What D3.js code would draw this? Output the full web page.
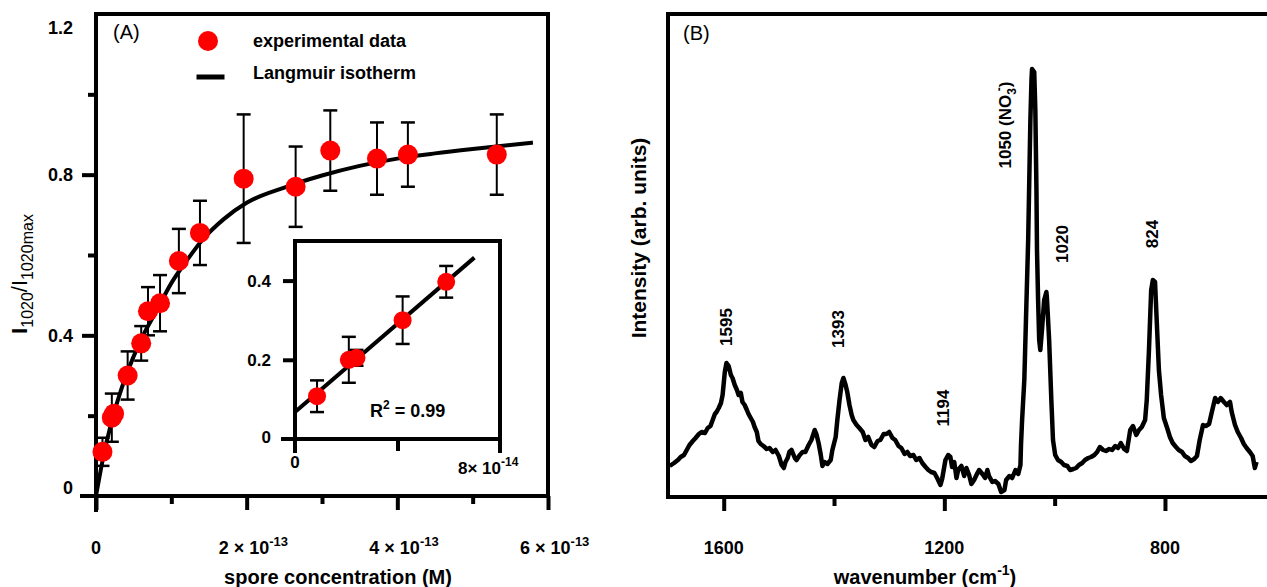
<!DOCTYPE html>
<html>
<head>
<meta charset="utf-8">
<script src="https://cdn.jsdelivr.net/npm/d3@7"></script>
<style>
  body { margin: 0; background: #fff; }
  svg text { font-family: "Liberation Sans", Arial, Helvetica, sans-serif; fill: #000; }
</style>
</head>
<body>
<div id="chart"></div>
<script>
// ---- panel A: spore concentration (units of 1e-13 M) vs I1020/I1020max
var concA  = [0.086, 0.21, 0.24, 0.42, 0.60, 0.69, 0.85, 1.10, 1.38, 1.96, 2.65, 3.11, 3.73, 4.14, 5.32];
var ratioA = [0.11, 0.195, 0.205, 0.30, 0.38, 0.46, 0.48, 0.585, 0.655, 0.79, 0.77, 0.86, 0.84, 0.85, 0.85];
var errA   = [0.035, 0.06, 0.015, 0.06, 0.043, 0.06, 0.07, 0.08, 0.08, 0.16, 0.10, 0.10, 0.09, 0.08, 0.10];

// Langmuir isotherm curve
var fitConc  = [0, 0.1, 0.2, 0.3, 0.4, 0.6, 0.8, 1.0, 1.2, 1.4, 1.7, 2.0, 2.5, 3.0, 3.5, 4.0, 4.5, 5.0, 5.5, 5.8];
var fitRatio = [0, 0.10, 0.18, 0.245, 0.30, 0.39, 0.46, 0.53, 0.585, 0.635, 0.69, 0.73, 0.768, 0.798, 0.822, 0.84, 0.853, 0.864, 0.874, 0.88];

var xTicksA = [0, 2, 4, 6];
var xMinorA = [1, 3, 5];
var yTicksA = [0, 0.4, 0.8, 1.2];
var yMinorA = [0.2, 0.6, 1.0];

// inset (units of 1e-14 M)
var concIn  = [0.86, 2.1, 2.4, 4.2, 5.9];
var ratioIn = [0.108, 0.200, 0.205, 0.300, 0.397];
var errIn   = [0.04, 0.058, 0.02, 0.06, 0.04];
var lineInX = [0, 7.0];
var lineInY = [0.068, 0.458];
var yTicksIn = [0, 0.2, 0.4];

// ---- panel B: Raman spectrum
var waveNum = [1698,1690,1683,1678,1672,1667,1662,1656,1651,1645,1640,1634,1629,1624,1620,1616,1613,1609,1605,1602,
  1598,1595,1591,1587,1584,1580,1576,1573,1569,1566,1562,1558,1555,1551,1547,1544,1540,1537,1533,
  1528,1522,1517,1511,1506,1500,1495,1491,1488,1484,1481,1477,1471,1468,1462,1457,1452,1446,1441,1435,
  1432,1428,1424,1421,1417,1412,1406,1403,1397,1394,1390,1386,1383,1379,1376,1372,1368,1365,1359,1354,1348,1343,1338,
  1332,1327,1321,1316,1310,1305,1300,1294,1289,1283,1278,1272,1267,1262,1256,1251,1245,1240,1234,1229,1224,1218,1213,1207,
  1204,1198,1193,1189,1186,1182,1178,1175,1169,1164,1160,1155,1151,1146,1140,1137,1131,1126,1122,1119,
  1113,1108,1102,1097,1091,1088,1082,1077,1071,1066,1062,
  1061,1059,1055,1052,1048,1044,1042,1041,1037,1035,1033,1032,1030,1028,1026,1023,1019,1015,1014,1010,1006,1003,999,994,
  988,983,977,972,966,961,956,950,945,939,934,928,923,918,912,907,901,896,890,885,
  880,874,869,863,858,852,847,842,836,833,829,825,822,818,815,811,807,802,796,791,
  786,780,775,769,764,758,753,747,742,737,731,726,720,715,709,704,699,693,688,682,
  679,673,668,662,657,652,646,641,637,634];
var intensity = [31,34,37,40,42,47,52,56,59,63,65,64,69,71,77,83,85,89,94,102,
  125,134,131,122,119,112,107,102,104,95,92,87,83,79,75,70,65,56,53,
  51,48,49,45,47,41,32,29,35,39,45,47,39,37,42,45,45,52,57,67,
  63,54,42,31,35,33,37,47,60,77,97,114,119,112,105,92,82,77,72,69,65,57,60,
  52,50,56,57,63,63,65,59,57,51,49,43,45,41,42,37,39,34,30,27,25,24,19,12,
  18,37,42,40,30,35,19,27,31,21,29,22,13,17,24,27,23,19,27,21,
  15,16,13,5,7,17,21,19,27,23,32,
  52,77,117,177,257,377,417,428,425,387,307,247,197,157,147,167,197,205,199,157,97,57,42,37,
  35,32,31,27,28,29,32,34,37,39,40,42,45,50,47,46,48,47,51,49,
  54,48,46,67,71,62,67,70,77,97,147,207,217,215,177,127,102,79,69,60,
  54,50,47,45,41,39,36,38,41,57,72,71,73,85,99,95,99,95,92,95,
  85,72,65,59,53,49,45,41,29,35];

var xTicksB = [1600, 1200, 800];
var xMinorB = [1400, 1000];
var peakLabels = [
  {w: 1595, t: "1595", dx: 0,   at: 170},
  {w: 1393, t: "1393", dx: 0,   at: 168},
  {w: 1194, t: "1194", dx: -5,  at: 89},
  {w: 1020, t: "1020", dx: 18,  at: 253},
  {w: 824,  t: "824",  dx: 0,   at: 263}
];

var W = 1267, H = 587;
var svg = d3.select("#chart").append("svg")
    .attr("width", W).attr("height", H)
    .style("display", "block");
svg.append("rect").attr("width", W).attr("height", H).attr("fill", "#fff");

var lw = 4;   // frame / axis thickness
function seg(g, x1, y1, x2, y2, w) {
  g.append("line").attr("x1", x1).attr("y1", y1).attr("x2", x2).attr("y2", y2)
    .attr("stroke", "#000").attr("stroke-width", w || lw).attr("stroke-linecap", "square");
}
function styleAxis(sel) {
  sel.select(".domain").remove();
  sel.selectAll(".tick line").attr("stroke", "#000").attr("stroke-width", lw);
}

//================ panel A
var xA = d3.scaleLinear().domain([0, 6]).range([96, 548]);
var yA = d3.scaleLinear().domain([0, 1.2]).range([496, 14]);
var gA = svg.append("g");

// ticks
gA.append("g").attr("transform", "translate(0," + yA(0) + ")")
  .call(d3.axisBottom(xA).tickValues(xTicksA).tickSize(14).tickFormat(""))
  .call(styleAxis);
gA.append("g").attr("transform", "translate(0," + yA(0) + ")")
  .call(d3.axisBottom(xA).tickValues(xMinorA).tickSize(8).tickFormat(""))
  .call(styleAxis);
gA.append("g").attr("transform", "translate(" + xA(0) + ",0)")
  .call(d3.axisLeft(yA).tickValues(yTicksA.slice(1, 3)).tickSize(14).tickFormat(""))
  .call(styleAxis);
gA.append("g").attr("transform", "translate(" + xA(0) + ",0)")
  .call(d3.axisLeft(yA).tickValues(yMinorA).tickSize(8).tickFormat(""))
  .call(styleAxis);

// frame
seg(gA, xA(0) - 14, yA(0), xA(6), yA(0));
seg(gA, xA(0), yA(1.2), xA(0), yA(0) + 14);
seg(gA, xA(0), yA(1.2), xA(6), yA(1.2));
seg(gA, xA(6), yA(1.2), xA(6), yA(0));

// y tick labels
gA.selectAll("text.ylab").data(yTicksA).enter().append("text")
  .attr("class", "ylab")
  .attr("x", 73)
  .attr("y", function(d) { return yA(d) + (d === 1.2 ? 14 : d === 0 ? -8 : 0); })
  .attr("dy", "0.35em")
  .attr("text-anchor", "end")
  .attr("font-size", 18).attr("font-weight", "bold")
  .text(function(d) { return d === 0 ? "0" : d3.format(".1f")(d); });

// x tick labels
xTicksA.forEach(function(v) {
  var t = gA.append("text").attr("y", 554)
    .attr("font-size", 18).attr("font-weight", "bold");
  if (v === 0) {
    t.attr("x", xA(v)).attr("text-anchor", "middle").text("0");
  } else {
    t.attr("x", xA(v) - 28).text(v + " \u00d7 10");
    t.append("tspan").attr("dy", -8).attr("font-size", 13).text("-13");
  }
});

// axis titles
gA.append("text").attr("x", 338).attr("y", 584).attr("text-anchor", "middle")
  .attr("font-size", 20).attr("font-weight", "bold").text("spore concentration (M)");

var yt = gA.append("text")
  .attr("transform", "translate(27,274) rotate(-90)")
  .attr("text-anchor", "middle")
  .attr("font-size", 22).attr("font-weight", "bold");
yt.append("tspan").text("I");
yt.append("tspan").attr("dy", 6).attr("font-size", 16).attr("font-weight", "normal").text("1020");
yt.append("tspan").attr("dy", -6).attr("font-weight", "normal").text("/I");
yt.append("tspan").attr("dy", 6).attr("font-size", 16).attr("font-weight", "normal").text("1020max");

gA.append("text").attr("x", 113).attr("y", 39).attr("font-size", 20).text("(A)");

// fit curve
var fitData = d3.zip(fitConc, fitRatio);
gA.append("path").datum(fitData)
  .attr("fill", "none").attr("stroke", "#000").attr("stroke-width", 4)
  .attr("d", d3.line().x(function(d) { return xA(d[0]); }).y(function(d) { return yA(d[1]); })
    .curve(d3.curveMonotoneX));

// error bars + points
var ptsA = d3.zip(concA, ratioA, errA);
var eb = gA.append("g").selectAll("g").data(ptsA).enter().append("g");
eb.append("line")
  .attr("x1", function(d) { return xA(d[0]); }).attr("x2", function(d) { return xA(d[0]); })
  .attr("y1", function(d) { return yA(d[1] - d[2]); }).attr("y2", function(d) { return yA(d[1] + d[2]); })
  .attr("stroke", "#000").attr("stroke-width", 2);
[-1, 1].forEach(function(s) {
  eb.append("line")
    .attr("x1", function(d) { return xA(d[0]) - 7; }).attr("x2", function(d) { return xA(d[0]) + 7; })
    .attr("y1", function(d) { return yA(d[1] + s * d[2]); }).attr("y2", function(d) { return yA(d[1] + s * d[2]); })
    .attr("stroke", "#000").attr("stroke-width", 2.5);
});
gA.append("g").selectAll("circle").data(ptsA).enter().append("circle")
  .attr("cx", function(d) { return xA(d[0]); })
  .attr("cy", function(d) { return yA(d[1]); })
  .attr("r", 10).attr("fill", "#f00");

// legend
gA.append("circle").attr("cx", 208).attr("cy", 41).attr("r", 10).attr("fill", "#f00");
gA.append("text").attr("x", 253).attr("y", 47).attr("font-size", 18).attr("font-weight", "bold").text("experimental data");
seg(gA, 199, 77, 222, 77, 5);
gA.append("text").attr("x", 253).attr("y", 79).attr("font-size", 18).attr("font-weight", "bold").text("Langmuir isotherm");

//================ inset
var xI = d3.scaleLinear().domain([0, 8]).range([295, 500]);
var yI = d3.scaleLinear().domain([0, 0.5]).range([439, 241]);
var gI = svg.append("g");
gI.append("rect").attr("x", xI(0)).attr("y", yI(0.5)).attr("width", xI(8) - xI(0))
  .attr("height", yI(0) - yI(0.5)).attr("fill", "#fff");
gI.append("g").attr("transform", "translate(0," + yI(0) + ")")
  .call(d3.axisBottom(xI).tickValues([4]).tickSize(12).tickFormat(""))
  .call(styleAxis);
gI.append("g").attr("transform", "translate(" + xI(0) + ",0)")
  .call(d3.axisLeft(yI).tickValues([0.2, 0.4]).tickSize(12).tickFormat(""))
  .call(styleAxis);
seg(gI, xI(0) - 12, yI(0), xI(8), yI(0));
seg(gI, xI(0), yI(0.5), xI(0), yI(0) + 12);
seg(gI, xI(0), yI(0.5), xI(8), yI(0.5));
seg(gI, xI(8), yI(0.5), xI(8), yI(0) + 12);

gI.selectAll("text.yl").data(yTicksIn).enter().append("text")
  .attr("class", "yl")
  .attr("x", 271).attr("y", function(d) { return yI(d) + (d === 0 ? -2 : 0); })
  .attr("dy", "0.35em").attr("text-anchor", "end")
  .attr("font-size", 17).attr("font-weight", "bold")
  .text(function(d) { return d === 0 ? "0" : d3.format(".1f")(d); });
gI.append("text").attr("x", xI(0)).attr("y", 468).attr("text-anchor", "middle")
  .attr("font-size", 17).attr("font-weight", "bold").text("0");
var t8 = gI.append("text").attr("x", xI(8) - 42).attr("y", 474)
  .attr("font-size", 17).attr("font-weight", "bold").text("8\u00d7 10");
t8.append("tspan").attr("dy", -8).attr("font-size", 12).text("-14");

gI.append("path").datum(d3.zip(lineInX, lineInY))
  .attr("fill", "none").attr("stroke", "#000").attr("stroke-width", 4)
  .attr("d", d3.line().x(function(d) { return xI(d[0]); }).y(function(d) { return yI(d[1]); }));

var ptsI = d3.zip(concIn, ratioIn, errIn);
var ebI = gI.append("g").selectAll("g").data(ptsI).enter().append("g");
ebI.append("line")
  .attr("x1", function(d) { return xI(d[0]); }).attr("x2", function(d) { return xI(d[0]); })
  .attr("y1", function(d) { return yI(d[1] - d[2]); }).attr("y2", function(d) { return yI(d[1] + d[2]); })
  .attr("stroke", "#000").attr("stroke-width", 2);
[-1, 1].forEach(function(s) {
  ebI.append("line")
    .attr("x1", function(d) { return xI(d[0]) - 7; }).attr("x2", function(d) { return xI(d[0]) + 7; })
    .attr("y1", function(d) { return yI(d[1] + s * d[2]); }).attr("y2", function(d) { return yI(d[1] + s * d[2]); })
    .attr("stroke", "#000").attr("stroke-width", 2.5);
});
gI.append("g").selectAll("circle").data(ptsI).enter().append("circle")
  .attr("cx", function(d) { return xI(d[0]); })
  .attr("cy", function(d) { return yI(d[1]); })
  .attr("r", 9).attr("fill", "#f00");

var r2 = gI.append("text").attr("x", 370).attr("y", 417)
  .attr("font-size", 18).attr("font-weight", "bold").text("R");
r2.append("tspan").attr("dy", -8).attr("font-size", 12).text("2");
r2.append("tspan").attr("dy", 8).text(" = 0.99");

//================ panel B
var xB = d3.scaleLinear().domain([1701, 615]).range([668, 1267]);
var yB = d3.scaleLinear().domain([0, 483]).range([497, 14]);
var gB = svg.append("g");

gB.append("g").attr("transform", "translate(0," + yB(0) + ")")
  .call(d3.axisBottom(xB).tickValues(xTicksB).tickSize(14).tickFormat(""))
  .call(styleAxis);
gB.append("g").attr("transform", "translate(0," + yB(0) + ")")
  .call(d3.axisBottom(xB).tickValues(xMinorB).tickSize(9).tickFormat(""))
  .call(styleAxis);
seg(gB, xB(1701), yB(0), W + 5, yB(0));
seg(gB, xB(1701), yB(483), W + 5, yB(483));
seg(gB, xB(1701), yB(483), xB(1701), yB(0));

gB.selectAll("text.xl").data(xTicksB).enter().append("text")
  .attr("class", "xl")
  .attr("x", function(d) { return xB(d); }).attr("y", 554)
  .attr("text-anchor", "middle").attr("font-size", 18).attr("font-weight", "bold")
  .text(function(d) { return d; });

var wt = gB.append("text").attr("x", 925).attr("y", 584).attr("text-anchor", "middle")
  .attr("font-size", 20).attr("font-weight", "bold").text("wavenumber (cm");
wt.append("tspan").attr("dy", -9).attr("font-size", 14).text("-1");
wt.append("tspan").attr("dy", 9).text(")");

gB.append("text").attr("transform", "translate(646,238) rotate(-90)")
  .attr("text-anchor", "middle").attr("font-size", 21).attr("font-weight", "bold")
  .text("Intensity (arb. units)");

gB.append("text").attr("x", 683).attr("y", 40).attr("font-size", 20).text("(B)");

// spectrum
var spec = d3.zip(waveNum, intensity);
gB.append("path").datum(spec)
  .attr("fill", "none").attr("stroke", "#000").attr("stroke-width", 4.5)
  .attr("stroke-linejoin", "round")
  .attr("d", d3.line().x(function(d) { return xB(d[0]); }).y(function(d) { return yB(d[1]); }));

// peak labels (rotated)
peakLabels.forEach(function(p) {
  gB.append("text")
    .attr("transform", "translate(" + (xB(p.w) + p.dx) + "," + yB(p.at) + ") rotate(-90)")
    .attr("text-anchor", "middle").attr("dy", "0.35em")
    .attr("font-size", 17).attr("font-weight", "bold").text(p.t);
});
var nl = gB.append("text")
  .attr("transform", "translate(" + (xB(1050) - 22) + "," + yB(372) + ") rotate(-90)")
  .attr("text-anchor", "middle").attr("dy", "0.35em")
  .attr("font-size", 17).attr("font-weight", "bold").text("1050 (NO");
nl.append("tspan").attr("dy", 5).attr("font-size", 12).text("3");
nl.append("tspan").attr("dy", -13).attr("dx", -3).attr("font-size", 12).text("-");
nl.append("tspan").attr("dy", 8).text(")");
</script>
</body>
</html>
